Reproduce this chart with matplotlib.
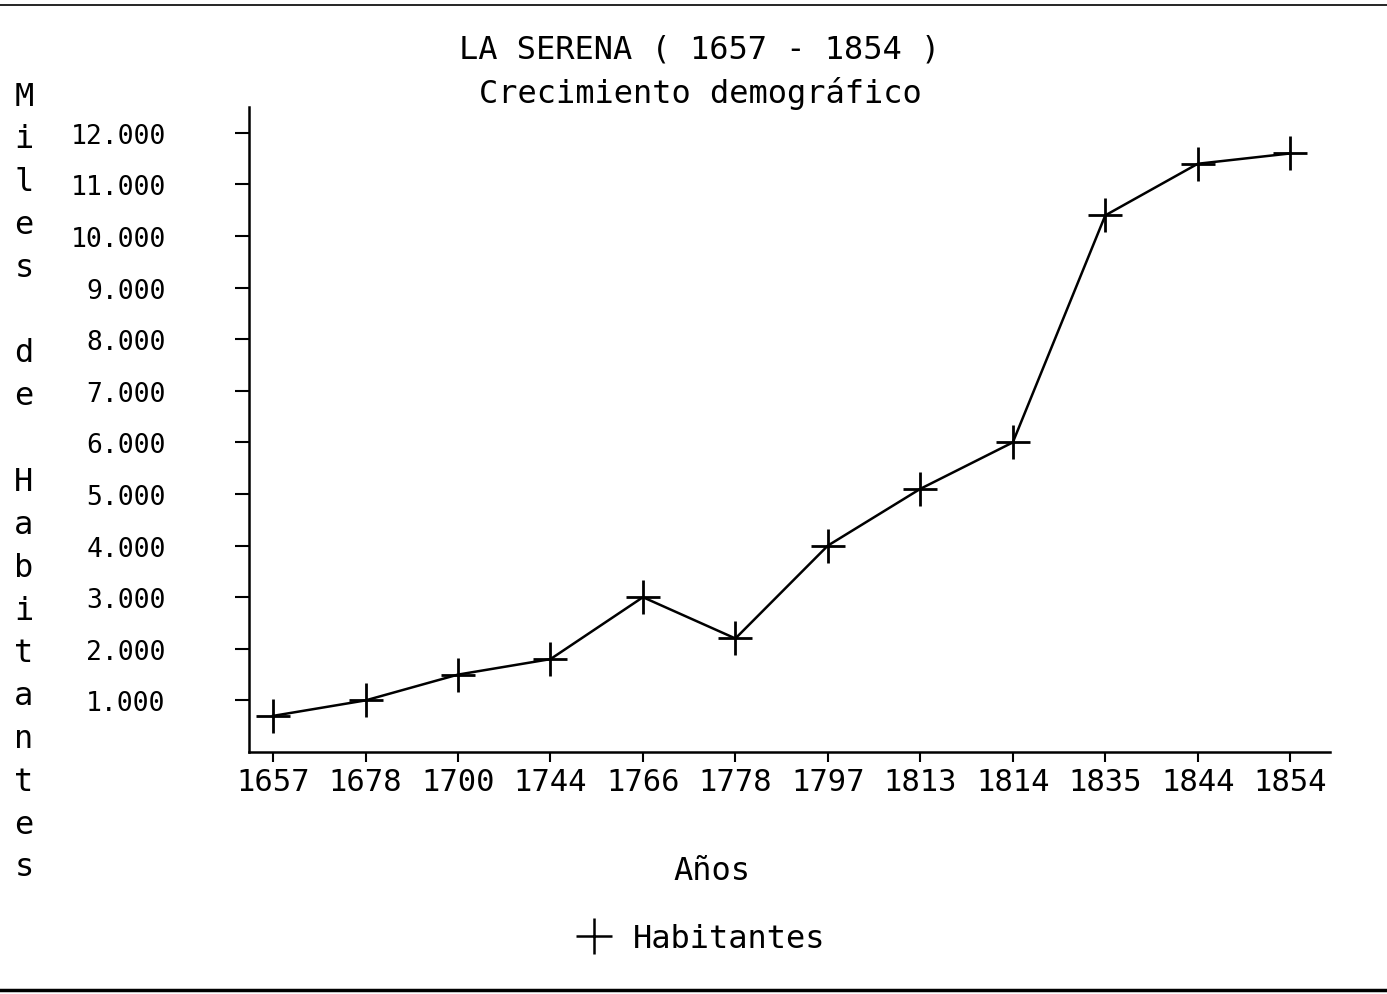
import matplotlib
matplotlib.use("Agg")
import matplotlib.pyplot as plt
from matplotlib.lines import Line2D

years = ["1657", "1678", "1700", "1744", "1766", "1778", "1797", "1813", "1814", "1835", "1844", "1854"]
habitantes = [700, 1000, 1500, 1800, 3000, 2200, 4000, 5100, 6000, 10400, 11400, 11600]
ytick_values = [1000, 2000, 3000, 4000, 5000, 6000, 7000, 8000, 9000, 10000, 11000, 12000]
ytick_labels = ["1.000", "2.000", "3.000", "4.000", "5.000", "6.000", "7.000", "8.000", "9.000", "10.000", "11.000", "12.000"]

title1 = "LA SERENA ( 1657 - 1854 )"
title2 = "Crecimiento demográfico"
ylabel = "Miles de Habitantes"
xlabel = "Años"
series_name = "Habitantes"

plt.rcParams['font.family'] = ['DejaVu Sans Mono', 'DejaVu Sans']

W, H = 1387, 995
fig = plt.figure(figsize=(W / 100, H / 100), dpi=100)
ax = fig.add_axes([249 / W, 1 - 753 / H, (1330 - 249) / W, (753 - 108) / H])

x = list(range(len(years)))
ax.plot(x, habitantes, color='black', lw=1.8, marker='+', markersize=25,
        markeredgewidth=2.0, label=series_name)

ax.set_xlim(-0.26, 11.43)
ax.set_ylim(0, 12500)
ax.set_xticks(x)
ax.set_xticklabels(years, fontsize=22)
ax.set_yticks(ytick_values)
ax.set_yticklabels(ytick_labels, fontsize=19)

for s in ['top', 'right']:
    ax.spines[s].set_visible(False)
for s in ['left', 'bottom']:
    ax.spines[s].set_linewidth(1.8)
ax.tick_params(axis='y', length=10, width=1.5, pad=50)
ax.tick_params(axis='x', length=7, width=1.5, pad=4)

fig.text(700 / W, 1 - 50 / H, title1, ha='center', va='center', fontsize=23)
fig.text(700 / W, 1 - 94 / H, title2, ha='center', va='center', fontsize=23)

# vertical stacked y-label
n = len(ylabel)
y_top, y_bot = 97, 868
for i, ch in enumerate(ylabel):
    yy = y_top + (y_bot - y_top) * i / (n - 1)
    fig.text(24 / W, 1 - yy / H, ch, ha='center', va='center', fontsize=23)

fig.text(712 / W, 1 - 872 / H, xlabel, ha='center', va='center', fontsize=23)

fig.legend(handles=[Line2D([], [], color='black', lw=0, marker='+', markersize=26,
                           markeredgewidth=1.8)],
           labels=[series_name], loc='center', bbox_to_anchor=(700 / W, 1 - 940 / H),
           frameon=False, fontsize=23, handlelength=1.2, handletextpad=0.6)

# scan border lines
fig.add_artist(Line2D([0, 1], [1 - 6 / H, 1 - 6 / H], transform=fig.transFigure, color='black', lw=1.2))
fig.add_artist(Line2D([0, 1], [1 - 991 / H, 1 - 991 / H], transform=fig.transFigure, color='black', lw=2.5))

fig.savefig("out.png", dpi=100, facecolor='white')
